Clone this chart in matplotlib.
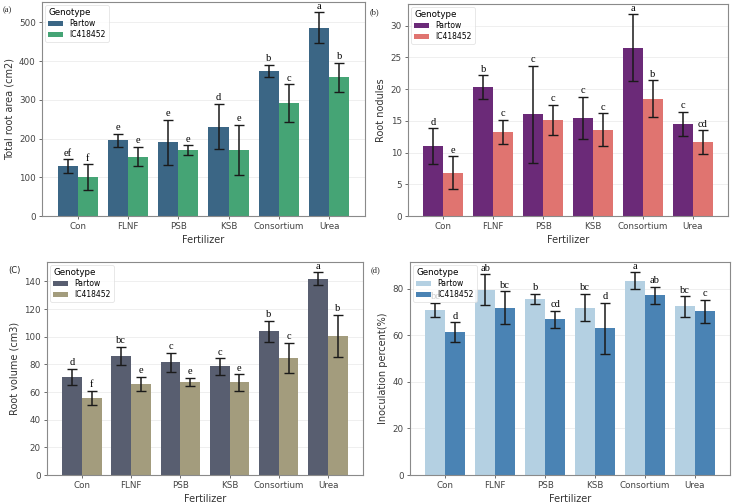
import matplotlib.pyplot as plt
import numpy as np

plt.switch_backend("Agg")

fertilizers = ["Con", "FLNF", "PSB", "KSB", "Consortium", "Urea"]
genotypes = ["Partow", "IC418452"]

# (a) total root area
area_partow = [128, 195, 190, 231, 374, 486]
area_partow_err = [18, 17, 59, 58, 16, 40]
area_ic = [100, 153, 170, 171, 291, 358]
area_ic_err = [34, 25, 12, 64, 49, 38]
area_letters_partow = ["ef", "e", "e", "d", "b", "a"]
area_letters_ic = ["f", "e", "e", "e", "c", "b"]

# (b) root nodules
nod_partow = [11.0, 20.3, 16.0, 15.5, 26.5, 14.5]
nod_partow_err = [2.8, 1.9, 7.7, 3.3, 5.3, 1.9]
nod_ic = [6.8, 13.3, 15.1, 13.6, 18.5, 11.6]
nod_ic_err = [2.6, 1.9, 2.4, 2.6, 2.9, 1.9]
nod_letters_partow = ["d", "b", "c", "c", "a", "c"]
nod_letters_ic = ["e", "c", "c", "c", "b", "cd"]

# (c) root volume
vol_partow = [71, 86, 81.5, 78.5, 104, 142]
vol_partow_err = [6, 6.7, 6.8, 6, 7.7, 4.7]
vol_ic = [56, 66, 67.5, 67, 84.5, 100.5]
vol_ic_err = [5, 5.2, 3, 6, 11, 15.5]
vol_letters_partow = ["d", "bc", "c", "c", "b", "a"]
vol_letters_ic = ["f", "e", "e", "e", "c", "b"]

# (d) inoculation percent
ino_partow = [71, 79.7, 75.7, 72, 83.5, 72.5]
ino_partow_err = [3, 6.7, 2.3, 6, 3.7, 4.4]
ino_ic = [61.3, 72, 67, 63, 77.3, 70.3]
ino_ic_err = [4.3, 6.9, 3.6, 11, 3.7, 5.1]
ino_letters_partow = ["bc", "ab", "b", "bc", "a", "bc"]
ino_letters_ic = ["d", "bc", "cd", "d", "ab", "c"]

panels = [
    ("(a)", "Total root area (cm2)", area_partow, area_partow_err, area_ic, area_ic_err,
     area_letters_partow, area_letters_ic, ("#3b6685", "#45a475"),
     [0.0572, 0.5714, 0.440, 0.4246], [0, 100, 200, 300, 400, 500]),
    ("(b)", "Root nodules", nod_partow, nod_partow_err, nod_ic, nod_ic_err,
     nod_letters_partow, nod_letters_ic, ("#6b2a78", "#e07470"),
     [0.5559, 0.5714, 0.436, 0.4206], [0, 5, 10, 15, 20, 25, 30]),
    ("(C)", "Root volume (cm3)", vol_partow, vol_partow_err, vol_ic, vol_ic_err,
     vol_letters_partow, vol_letters_ic, ("#585e70", "#a39c7d"),
     [0.064, 0.0575, 0.4305, 0.4226], [0, 20, 40, 60, 80, 100, 120, 140]),
    ("(d)", "Inoculation percent(%)", ino_partow, ino_partow_err, ino_ic, ino_ic_err,
     ino_letters_partow, ino_letters_ic, ("#b4d0e2", "#4a83b4"),
     [0.5586, 0.0575, 0.436, 0.4226], [0, 20, 40, 60, 80]),
]

fig = plt.figure(figsize=(7.34, 5.04), dpi=100)
x = np.arange(len(fertilizers))
width = 0.4

for tag, ylabel, p, pe, ic, ice, lp, lic, colors, rect, yticks in panels:
    ax = fig.add_axes(rect)
    ax.set_axisbelow(True)
    ax.grid(axis="y", color="#ececec", linewidth=0.6)
    for offs, vals, errs, letters, col, name in [
        (-width / 2, p, pe, lp, colors[0], genotypes[0]),
        (width / 2, ic, ice, lic, colors[1], genotypes[1]),
    ]:
        ax.bar(x + offs, vals, width, color=col, label=name)
        ax.errorbar(x + offs, vals, yerr=errs, fmt="none", ecolor="#1a1a1a",
                    elinewidth=1.1, capsize=3.5, capthick=1.0)
        span = yticks[-1] - yticks[0]
        for xi, v, e, t in zip(x + offs, vals, errs, letters):
            ax.text(xi, v + e + span * 0.008, t, ha="center", va="bottom",
                    family="Liberation Serif", fontsize=7.5)
    ax.set_xlim(-0.71, 5.71)
    ax.set_ylim(0, None)
    ax.set_yticks(yticks)
    ax.set_xticks(x)
    ax.set_xticklabels(fertilizers)
    ax.tick_params(labelsize=6.3, colors="#555555", length=2.5, width=0.6,
                   labelcolor="#444444", pad=2)
    for s in ax.spines.values():
        s.set_color("#8a8a8a")
        s.set_linewidth(0.8)
    ax.set_xlabel("Fertilizer", fontsize=7, color="#333333", labelpad=3)
    ax.set_ylabel(ylabel, fontsize=7, color="#333333", labelpad=3)
    leg = ax.legend(title="Genotype", loc="upper left", fontsize=5.5,
                    title_fontsize=6.3, frameon=True, borderaxespad=0.4,
                    handlelength=2.0, handleheight=0.6, labelspacing=0.25,
                    borderpad=0.4)
    leg.get_frame().set_edgecolor("#dddddd")
    leg.get_frame().set_linewidth(0.6)
    leg._legend_box.align = "left"

    bb = ax.get_position()
    fam = "DejaVu Sans" if tag == "(C)" else "Liberation Serif"
    fig.text(bb.x0 - 0.053, bb.y1 - 0.008, tag, fontsize=6, family=fam,
             ha="left", va="top", color="#222222")

fig.savefig("out.png", dpi=100)
